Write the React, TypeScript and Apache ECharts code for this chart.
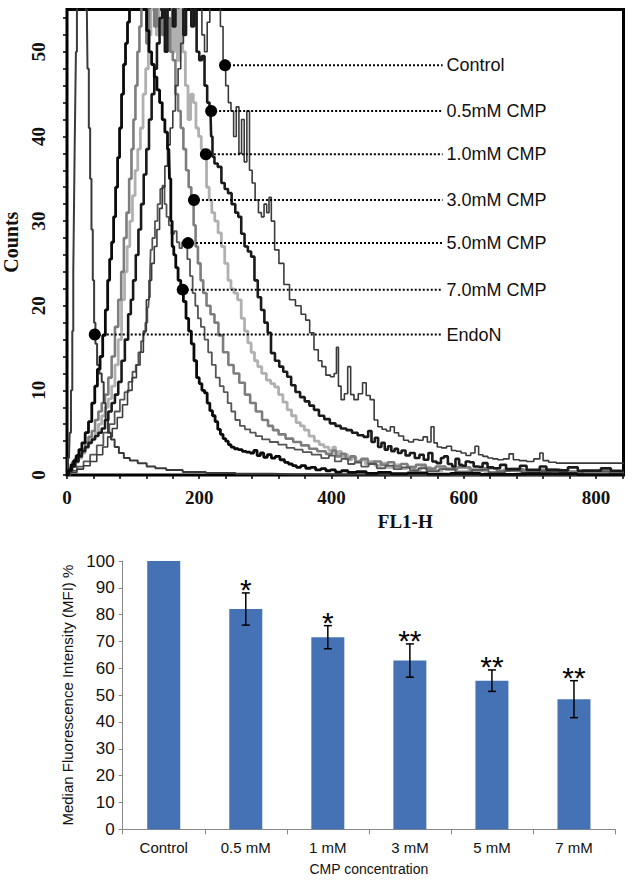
import React, { useEffect, useRef } from "react";
import * as echarts from "echarts";

// ---------- Top panel: FL1-H histograms, [FL1-H channel, counts] ----------
const controlCurve: number[][] = [
  [0,0],[10,0.3],[20,0.7],[30,1.1],[40,1.6],[50,2.4],[58,3.3],[65,4.5],[72,5.5],[80,6.8],[88,8.3],[95,10],[102,11.5],[108,13],[113,14.5],[118,17],[122,20.7],[126,23],[130,25],[134,27],[138,29],[142,31.5],[146,34],[150,36.5],[154,39],[158,41],[162,43],[166,46],[170,48],[174,51],[178,53],[182,56],[186,58],[190,62],[194,56],[198,64],[202,58],[206,52],[210,50],[214,53.5],[218,60],[222,63],[226,58],[230,56],[234,53],[238,49],[242,46],[246,44],[250,43],[254,40],[258,43.5],[262,38],[266,42],[270,37],[274,43],[278,36],[282,34.5],[287,32.5],[292,31],[296,30.5],[300,32],[304,31],[307,32.8],[311,30],[317,26.6],[324,25],[332,22.5],[341,20.7],[350,20],[358,19],[364,18.3],[370,16.8],[377,14.8],[383,13.5],[388,12.8],[395,11.8],[402,11.6],[406,12],[409,15.1],[412,10.5],[417,8.9],[422,9.6],[427,12.8],[431,9.5],[437,8.9],[444,9.6],[450,10.9],[455,9.4],[462,8.9],[467,6.5],[473,5.7],[480,5.4],[486,5.2],[492,5.7],[498,5],[505,4.6],[513,4.1],[520,3.9],[528,4.2],[535,4.1],[542,4.5],[548,3.9],[553,5.7],[557,3.8],[563,3.3],[570,3.2],[578,3.4],[585,2.9],[592,2.8],[600,2.6],[607,2.3],[614,2.6],[620,3.4],[625,2.4],[633,2.2],[640,2.0],[648,1.9],[655,1.8],[665,1.9],[672,2.5],[678,1.8],[690,1.7],[700,1.6],[712,1.9],[718,2.6],[722,1.7],[735,1.5],[745,1.4],[770,1.4],[800,1.4],[842,1.4]
];
const cmp05Curve: number[][] = [
  [0,0],[5,0.5],[10,1],[15,1.6],[20,2.2],[25,2.8],[30,3.3],[35,3.8],[40,4.2],[45,4.6],[50,5],[55,5.5],[60,6.5],[65,7.5],[70,8.5],[75,9.5],[80,11],[85,13.5],[90,16],[95,19],[98,20.7],[102,23],[106,26],[110,29],[114,32],[118,35.5],[122,38.5],[126,42],[130,45],[134,48],[138,51],[142,54],[146,56],[150,50],[154,57],[158,61],[162,53],[166,60],[170,64],[174,56],[178,52],[182,60],[186,57],[190,53],[194,55],[198,50],[202,49],[206,49.5],[210,46],[214,44],[217,43],[219,40],[221,37.6],[225,36.8],[231,36.4],[236,34.5],[241,33.8],[246,33.3],[252,32],[257,31],[261,30.5],[266,28.5],[271,27],[276,26.4],[281,25.8],[286,23],[291,21],[296,19.5],[301,18],[306,16.8],[311,14.4],[318,13.5],[324,12.8],[330,12.2],[336,11.6],[342,10.6],[349,9.8],[356,9.2],[363,8.7],[370,8.2],[377,7.7],[385,7.0],[393,6.6],[402,6.1],[410,5.8],[418,5.5],[427,5.3],[435,5.0],[444,4.7],[453,4.5],[458,5.2],[463,3.9],[468,4.4],[473,3.3],[478,3.8],[483,3.0],[488,3.4],[493,2.8],[498,3.1],[503,2.6],[509,2.9],[515,2.3],[522,2.6],[530,2.0],[536,2.4],[543,1.8],[550,2.6],[555,1.6],[563,1.4],[568,2.0],[572,2.2],[580,1.3],[585,1.0],[590,1.9],[596,1.2],[600,1.1],[606,1.6],[612,1.5],[618,1.0],[625,0.95],[632,1.4],[640,0.9],[650,0.8],[660,1.2],[668,0.7],[680,0.7],[690,1.1],[700,0.6],[710,0.6],[720,1.0],[730,0.6],[750,0.55],[765,0.9],[780,0.5],[800,0.5],[815,0.8],[830,0.5],[842,0.45]
];
const cmp10Curve: number[][] = [
  [0,0],[5,0.5],[10,1],[15,1.5],[20,2],[25,2.6],[30,3.2],[35,3.8],[40,4.3],[45,5],[50,6],[55,7],[60,8],[65,9],[70,10.5],[75,13],[80,16],[85,20.7],[89,24],[93,27],[97,30],[101,33],[105,36],[109,38.5],[113,41],[117,45],[121,48],[125,52],[129,55],[133,58],[137,52],[141,60],[145,62],[149,54],[153,61],[157,57],[161,50],[165,55],[169,49],[173,56],[177,50],[181,46],[185,42],[189,45],[193,44],[197,41],[201,40],[205,38.5],[209,37.5],[213,34],[217,32.5],[221,31],[226,30],[231,28.6],[236,27],[241,25],[246,23],[250,22],[255,21.5],[261,20.7],[266,18.5],[271,17],[276,15.6],[281,14.5],[286,13.5],[291,12.8],[298,12],[305,11.2],[311,10.8],[317,10.4],[323,9.5],[330,8.6],[336,7.7],[343,7],[350,6.2],[356,5.8],[362,5.3],[370,4.6],[378,4],[385,3.6],[392,3.3],[400,2.9],[404,3.3],[408,2.5],[413,2.8],[417,2.1],[422,2.4],[428,1.8],[434,2.1],[440,1.5],[447,1.8],[455,1.3],[462,1.6],[470,1.1],[478,1.4],[490,0.9],[498,1.2],[510,0.75],[518,1.0],[530,0.6],[540,0.9],[560,0.5],[575,0.8],[600,0.4],[615,0.7],[650,0.3],[670,0.6],[720,0.25],[740,0.5],[780,0.3],[842,0.2]
];
const cmp30Curve: number[][] = [
  [0,0],[5,0.8],[10,1.5],[15,2],[20,2.5],[25,3],[30,3.8],[35,4.5],[40,5.2],[45,6.5],[50,7.5],[55,8.5],[60,9.5],[65,11.5],[70,14],[75,17.5],[80,20.7],[84,24],[88,28],[92,31],[96,35],[99,38.5],[102,42],[105,46],[108,50],[111,53],[114,57],[118,60],[122,51],[126,59],[130,62],[134,53],[138,63],[142,60],[146,52],[150,58],[154,54],[158,50],[162,49],[166,45],[170,43],[174,41],[178,38.5],[182,36],[186,34],[190,32.5],[193,29.5],[196,27],[200,25],[204,23],[208,21.5],[214,20],[220,19],[226,18],[232,16.5],[240,14.5],[248,13],[256,12],[265,10.9],[273,9.5],[281,8.5],[290,7.5],[300,6.5],[308,5.8],[315,5.3],[325,4.8],[336,4.3],[348,3.9],[360,3.5],[372,3.1],[385,2.8],[398,2.5],[404,2.9],[410,2.2],[418,2.5],[425,1.9],[432,2.2],[440,1.6],[450,1.9],[460,1.4],[470,1.6],[480,1.2],[490,1.5],[500,1.0],[510,1.3],[520,0.9],[535,1.2],[550,0.75],[565,1.0],[580,0.65],[600,0.9],[620,0.55],[640,0.8],[660,0.5],[680,0.7],[700,0.45],[730,0.6],[760,0.4],[800,0.55],[842,0.35]
];
const cmp50Curve: number[][] = [
  [0,0],[10,0.5],[20,1],[30,1.6],[40,2.4],[50,3.5],[60,5],[68,6],[76,7.5],[84,8.9],[90,9.8],[96,11],[102,12.2],[106,13],[110,14.5],[114,15.8],[117,16.8],[120,18],[123,19.8],[125,21],[126,24],[127,26.6],[131,28],[135,30],[139,32],[143,33.8],[146,34.2],[149,32],[152,30.5],[156,29.5],[160,28.5],[164,28.8],[168,27.5],[172,26.8],[176,27.5],[180,27],[184,25.5],[188,23.5],[192,21.5],[196,20],[200,18.5],[205,17.5],[211,16],[216,14.5],[222,13],[228,11.5],[234,10.5],[240,9.8],[246,8.5],[251,7.5],[258,6.5],[265,5.8],[273,5.4],[281,5],[290,4.6],[300,4.2],[313,3.9],[326,3.6],[338,3.2],[350,3],[363,2.7],[377,2.4],[392,2],[400,2.3],[410,1.6],[420,1.9],[430,1.3],[440,1.5],[450,1],[462,1.3],[475,0.8],[488,1.1],[500,0.7],[512,0.9],[525,0.55],[538,0.8],[550,0.45],[575,0.7],[600,0.35],[625,0.6],[650,0.3],[675,0.5],[700,0.25],[730,0.45],[760,0.2],[800,0.4],[842,0.2]
];
const cmp70Curve: number[][] = [
  [0,0],[4,0.6],[8,1.2],[12,1.7],[16,2.3],[20,3],[25,3.8],[30,5],[35,6.3],[40,8.5],[44,10.5],[48,12.5],[52,14],[56,16.5],[60,19.5],[63,23],[66,25.5],[69,27.5],[72,30.5],[75,34],[78,37.5],[81,41],[84,45],[87,48.5],[90,51],[93,53.5],[96,57],[100,61],[104,63],[108,59],[112,65],[116,60],[119,55],[122,52.5],[126,50],[130,48.5],[134,47],[138,45.5],[142,44],[146,42],[150,40.5],[154,38.5],[156,35],[158,30],[160,27],[163,26],[166,24.5],[170,23],[174,22],[178,20.5],[182,18.5],[186,17],[190,15.5],[194,13.5],[198,11.5],[202,10.8],[206,10],[210,9.7],[214,8.5],[218,7.6],[222,7],[226,6.3],[230,5.4],[234,4.8],[238,4.3],[242,4],[246,3.6],[250,3.3],[256,3.1],[262,3],[268,2.8],[274,2.7],[280,2.6],[285,2.9],[290,2.3],[295,2.6],[300,2.1],[306,2.4],[312,2],[318,2.2],[326,1.8],[332,1.5],[338,1.3],[344,1.1],[350,0.9],[357,1.1],[365,0.8],[372,0.9],[380,0.6],[388,0.75],[395,0.5],[402,0.6],[410,0.35],[420,0.5],[430,0.3],[445,0.4],[460,0.2],[480,0.3],[500,0.15],[530,0.25],[560,0.1],[600,0.2],[650,0.08],[700,0.15],[842,0.05]
];
const endoNCurve: number[][] = [
  [0,0],[3,2],[5,5],[7,10],[9,17],[10,24],[11,31],[12,38],[13,44],[14,50],[16,56],[18,62],[21,68],[24,64],[27,60],[30,55],[32,48],[34,41],[36,35],[38,29],[40,23],[42,18],[44,15.5],[47,13],[51,12],[54,11],[57,8.5],[60,6.5],[64,5],[69,4.2],[75,3.3],[82,2.6],[90,2.0],[100,1.7],[114,1.4],[127,1.0],[140,0.8],[160,0.6],[190,0.35],[230,0.25],[280,0.15],[340,0.1],[420,0.05],[500,0],[842,0]
];

const curveNames = ["1.0mM CMP", "3.0mM CMP", "5.0mM CMP", "Control", "EndoN", "0.5mM CMP", "7.0mM CMP"];
const curveData = [cmp10Curve, cmp30Curve, cmp50Curve, controlCurve, endoNCurve, cmp05Curve, cmp70Curve];

// leader-line labels (marker position on each curve)
const labelNames = ["Control", "0.5mM CMP", "1.0mM CMP", "3.0mM CMP", "5.0mM CMP", "7.0mM CMP", "EndoN"];
const markerX = [239, 218, 210, 192, 183, 175, 42];
const markerY = [48.4, 43.0, 37.9, 32.5, 27.4, 21.9, 16.6];
const leaderEndX = 568;

const histXTicks = [0, 200, 400, 600, 800];
const histYTicks = [0, 10, 20, 30, 40, 50];

// ---------- Bottom panel: MFI bars ----------
const barCategories = ["Control", "0.5 mM", "1 mM", "3 mM", "5 mM", "7 mM"];
const mfiValues = [100, 82.1, 71.6, 62.9, 55.4, 48.5];
const mfiErrors = [0, 6.0, 4.3, 6.2, 4.0, 6.9];
const significance = ["", "*", "*", "**", "**", "**"];

const curveStyles: Record<string, { color: string; width: number }> = {
  "Control": { color: "#3a3a3a", width: 1.6 },
  "0.5mM CMP": { color: "#1a1a1a", width: 2.6 },
  "1.0mM CMP": { color: "#b0b0b0", width: 2.8 },
  "3.0mM CMP": { color: "#7d7d7d", width: 2.6 },
  "5.0mM CMP": { color: "#555555", width: 1.8 },
  "7.0mM CMP": { color: "#0a0a0a", width: 2.8 },
  "EndoN": { color: "#3a3a3a", width: 2 },
};

const SERIF = '"Liberation Serif", "Times New Roman", serif';
const SANS = '"Liberation Sans", Arial, sans-serif';

function buildOption(): any {
  const histSeries = curveNames.map((name, i) => ({
    type: "line",
    name,
    xAxisIndex: 0,
    yAxisIndex: 0,
    data: curveData[i],
    step: "middle",
    symbol: "none",
    showSymbol: false,
    silent: true,
    lineStyle: { color: curveStyles[name].color, width: curveStyles[name].width },
    z: 2 + i,
  }));

  const leaderSeries = labelNames.map((name, i) => ({
    type: "line",
    name: "leader-" + name,
    xAxisIndex: 0,
    yAxisIndex: 0,
    data: [[markerX[i], markerY[i]], [leaderEndX, markerY[i]]],
    symbol: "circle",
    showSymbol: true,
    symbolSize: (_v: any, p: any) => (p.dataIndex === 0 ? 12 : 0),
    itemStyle: { color: "#000" },
    lineStyle: { color: "#000", width: 2, type: [2, 2] },
    silent: true,
    z: 20,
    endLabel: {
      show: true,
      formatter: name,
      fontFamily: SANS,
      fontSize: 18,
      color: "#111",
      distance: 4,
    },
  }));

  return {
    animation: false,
    backgroundColor: "#ffffff",
    grid: [
      { left: 67, top: 9.5, width: 556.5, height: 465.5, show: true, borderColor: "#000", borderWidth: 3, backgroundColor: "transparent", containLabel: false, outerBoundsMode: "none" },
      { left: 122.7, top: 561, width: 492.3, height: 268.3, containLabel: false, outerBoundsMode: "none" },
    ],
    xAxis: [
      {
        type: "value", gridIndex: 0, min: 0, max: 841.6, interval: 40,
        axisLine: { show: false },
        axisTick: { show: true, length: 4, lineStyle: { color: "#000", width: 1.5 } },
        splitLine: { show: false },
        axisLabel: {
          formatter: (v: number) => (histXTicks.indexOf(v) >= 0 ? String(v) : ""),
          showMaxLabel: false,
          fontFamily: SERIF, fontWeight: "bold", fontSize: 19, color: "#111", margin: 13,
        },
        name: "FL1-H", nameLocation: "middle", nameGap: 35,
        nameTextStyle: { fontFamily: SERIF, fontWeight: "bold", fontSize: 19, color: "#111", padding: [0, 0, 0, 120] },
      },
      {
        type: "category", gridIndex: 1, data: barCategories,
        axisLine: { show: true, lineStyle: { color: "#888", width: 1 } },
        axisTick: { show: true, length: 5, lineStyle: { color: "#888" } },
        axisLabel: { fontFamily: SANS, fontSize: 15, color: "#111", margin: 11 },
        name: "CMP concentration", nameLocation: "middle", nameGap: 33,
        nameTextStyle: { fontFamily: SANS, fontSize: 14, color: "#111" },
      },
    ],
    yAxis: [
      {
        type: "value", gridIndex: 0, min: 0, max: 55, interval: 2,
        axisLine: { show: false },
        axisTick: { show: true, length: 4, lineStyle: { color: "#000", width: 1.5 } },
        splitLine: { show: false },
        axisLabel: {
          formatter: (v: number) => (histYTicks.indexOf(v) >= 0 ? String(v) : ""),
          showMaxLabel: false, rotate: 90,
          fontFamily: SERIF, fontWeight: "bold", fontSize: 19, color: "#111", margin: 19,
        },
        name: "Counts", nameLocation: "middle", nameGap: 37,
        nameTextStyle: { fontFamily: SERIF, fontWeight: "bold", fontSize: 20, color: "#111" },
      },
      {
        type: "value", gridIndex: 1, min: 0, max: 100, interval: 10,
        axisLine: { show: true, lineStyle: { color: "#888", width: 1 } },
        axisTick: { show: true, length: 4, lineStyle: { color: "#888" } },
        splitLine: { show: false },
        axisLabel: { fontFamily: SANS, fontSize: 17, color: "#111", margin: 8 },
        name: "Median Fluorescence Intensity (MFI) %", nameLocation: "middle", nameGap: 44,
        nameTextStyle: { fontFamily: SANS, fontSize: 15, color: "#111" },
      },
    ],
    series: [
      ...histSeries,
      ...leaderSeries,
      {
        type: "bar", name: "MFI", xAxisIndex: 1, yAxisIndex: 1,
        data: mfiValues, barWidth: 33,
        itemStyle: { color: "#4572B4" },
        silent: true,
      },
      {
        type: "custom", name: "error", xAxisIndex: 1, yAxisIndex: 1,
        data: mfiValues.map((v, i) => [i, v, mfiErrors[i]]),
        silent: true, z: 10,
        renderItem: (params: any, api: any) => {
          const idx = api.value(0);
          const v = api.value(1);
          const e = api.value(2);
          if (!e) return { type: "group", children: [] };
          const top = api.coord([idx, v + e]);
          const bot = api.coord([idx, v - e]);
          const cap = 4;
          const st = { stroke: "#000", lineWidth: 1.5 };
          return {
            type: "group",
            children: [
              { type: "line", shape: { x1: top[0], y1: top[1], x2: bot[0], y2: bot[1] }, style: st },
              { type: "line", shape: { x1: top[0] - cap, y1: top[1], x2: top[0] + cap, y2: top[1] }, style: st },
              { type: "line", shape: { x1: bot[0] - cap, y1: bot[1], x2: bot[0] + cap, y2: bot[1] }, style: st },
              {
                type: "text",
                style: {
                  text: significance[params.dataIndex],
                  x: top[0], y: top[1] - 3.5,
                  align: "center", verticalAlign: "middle",
                  fontFamily: SANS, fontSize: 30, fill: "#000",
                },
              },
            ],
          };
        },
      },
    ],
  };
}

export default function App() {
  const ref = useRef<HTMLDivElement>(null);
  useEffect(() => {
    if (!ref.current) return;
    const chart = echarts.init(ref.current, null, { renderer: "svg" });
    chart.setOption(buildOption());
    return () => chart.dispose();
  }, []);
  return (
    <div
      ref={ref}
      style={{ position: "absolute", left: 0, top: 0, width: 632, height: 881, background: "#fff" }}
    />
  );
}
